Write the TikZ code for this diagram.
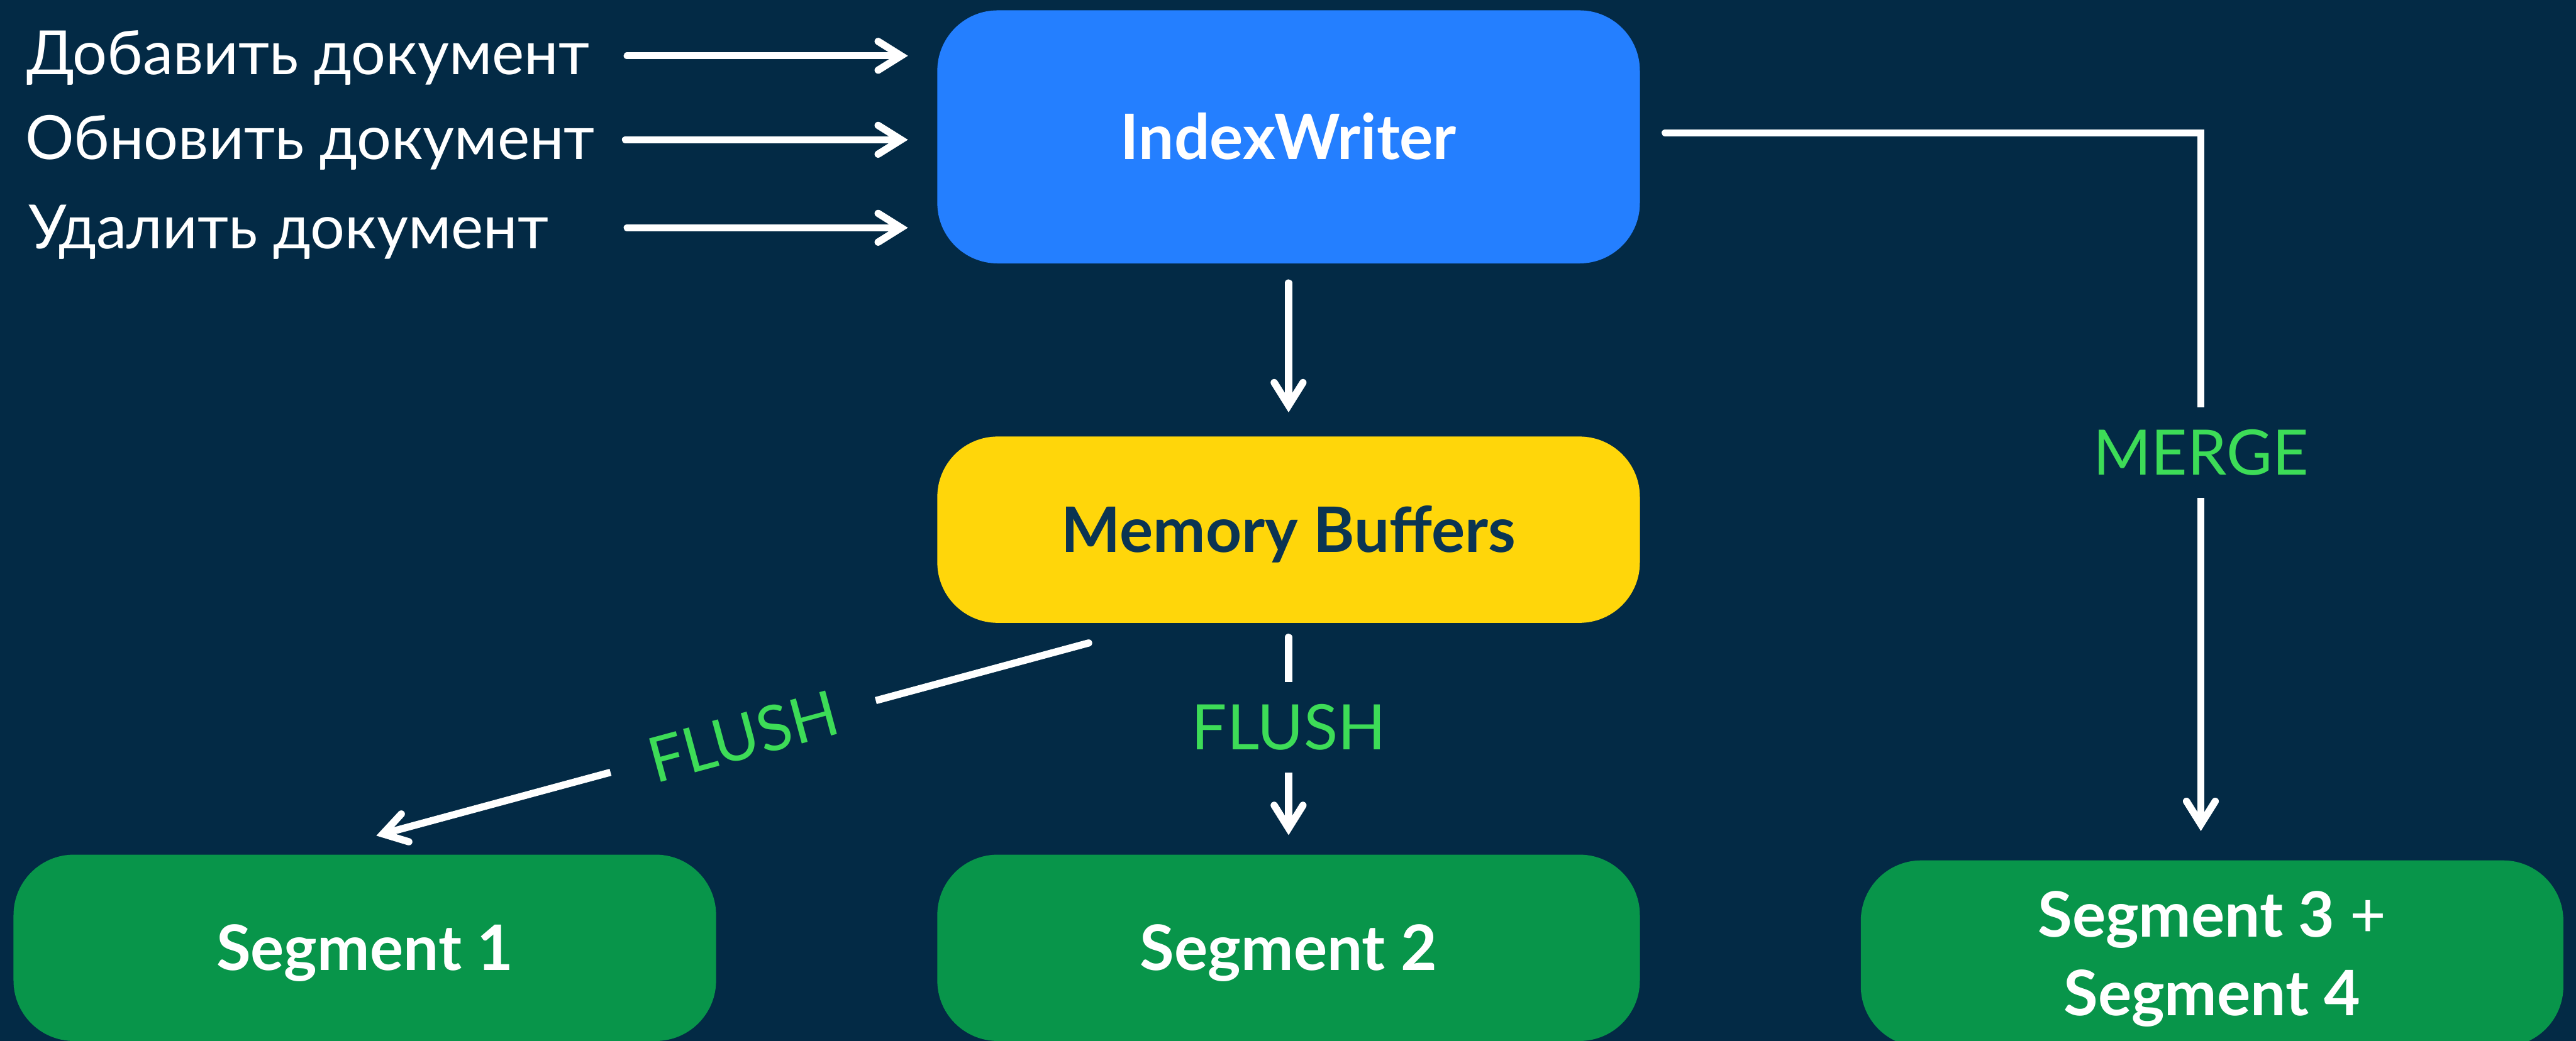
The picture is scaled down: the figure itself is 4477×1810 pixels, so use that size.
\documentclass[tikz,border=0pt]{standalone}
\usepackage{fontspec}
\setmainfont{Lato}
\usetikzlibrary{arrows.meta,calc}
\definecolor{bg}{HTML}{032A45}
\definecolor{iwblue}{HTML}{247FFF}
\definecolor{mbyellow}{HTML}{FFD60A}
\definecolor{seggreen}{HTML}{08954A}
\definecolor{lblgreen}{HTML}{3DDC57}
\definecolor{navytext}{HTML}{0B3452}
\begin{document}
\begin{tikzpicture}[x=0.2pt,y=-0.2pt,
  box/.style={rectangle, rounded corners=21pt, minimum width=244.2pt, minimum height=64.8pt,
    inner sep=0pt, align=center, text=white, text height=15.6pt, text depth=0pt,
    font=\fontsize{21.8pt}{27.2pt}\selectfont\bfseries},
  sidelabel/.style={anchor=base west, inner sep=0pt, text=white, font=\fontsize{21.2pt}{26pt}\selectfont},
  flowlabel/.style={fill=bg, text=lblgreen, inner xsep=14pt, inner ysep=7.7pt,
    font=\fontsize{21.8pt}{26pt}\selectfont},
  arr/.style={draw=white, line width=2.5pt, line cap=round,
    -{Straight Barb[length=8pt,width=10pt,line cap=round,line join=miter]}}
]
\path[use as bounding box] (0,0) rectangle (4477,1810);
\clip (0,0) rectangle (4477,1810);
\fill[bg] (0,0) rectangle (4477,1810);

% boxes
\node[box, fill=iwblue, minimum height=88pt] (iw) at (2239.5,238) {IndexWriter};
\node[box, fill=mbyellow, text=navytext] (mb) at (2239.5,921) {Memory Buffers};
\node[box, fill=seggreen] (s1) at (634,1648) {Segment 1};
\node[box, fill=seggreen] (s2) at (2239.5,1648) {Segment 2};
\node[box, fill=seggreen, text height=43pt] (s34) at (3844.5,1658) {Segment 3 {\mdseries +}\\Segment 4};

% side labels
\node[sidelabel] (l1) at (45,130) {Добавить документ};
\node[sidelabel] (l2) at (43,277) {Обновить документ};
\node[sidelabel] (l3) at (49,432) {Удалить документ};

\coordinate (a1) at (1090,97);
\coordinate (a2) at (1087,243);
\coordinate (a3) at (1090,396);
\draw[arr, shorten >=10pt] (a1) -- (a1 -| iw.west);
\draw[arr, shorten >=10pt] (a2) -- (a2 -| iw.west);
\draw[arr, shorten >=10pt] (a3) -- (a3 -| iw.west);

% IndexWriter -> Memory Buffers
\draw[arr, shorten <=6.6pt, shorten >=8.2pt] (iw.south) -- (mb.north);

% Memory Buffers -> Segment 2
\draw[arr, shorten <=4.8pt, shorten >=6.6pt] (mb.south) -- node[flowlabel, pos=0.45] (fl2) {FLUSH} (s2.north);

% Memory Buffers -> Segment 1
\coordinate (f1s) at (1892,1118);
\coordinate (f1e) at (654,1453);
\draw[arr] (f1s) -- node[flowlabel, sloped, pos=0.485] (fl1) {FLUSH} (f1e);

% IndexWriter -> Segment 3+4 (merge)
\coordinate (ms) at (2894,231);
\coordinate (mc) at (3825,231);
\draw[arr, shorten >=10pt] (ms) -- (mc) -- node[flowlabel, pos=0.44] (mg) {MERGE} (mc |- s34.north);
\end{tikzpicture}
\end{document}
